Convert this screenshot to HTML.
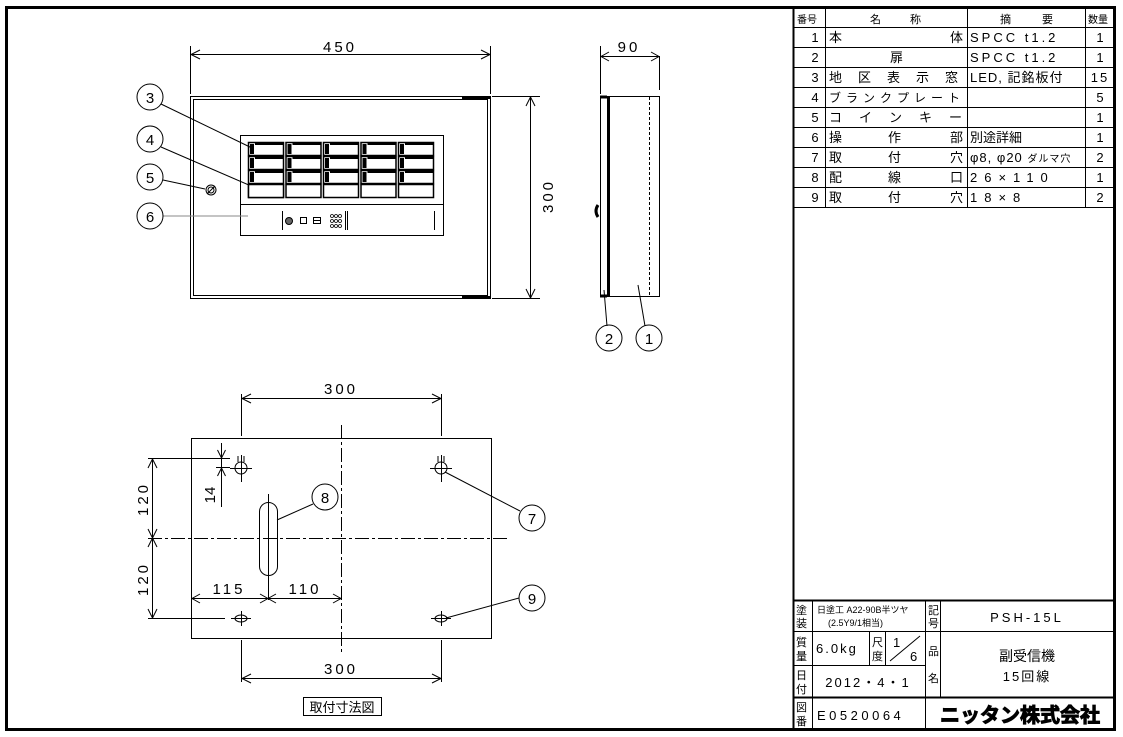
<!DOCTYPE html>
<html><head><meta charset="utf-8"><style>
html,body{margin:0;padding:0;background:#fff}
svg{display:block}
text{font-family:"Liberation Sans","Noto Sans CJK JP",sans-serif;fill:#000}
.j{font-family:"Liberation Sans","Noto Sans CJK JP",sans-serif}
</style></head><body>
<svg width="1123" height="737" viewBox="0 0 1123 737" xmlns="http://www.w3.org/2000/svg">
<defs>
<g id="c"><rect x="0.5" y="0.5" width="35" height="13" fill="none" stroke="#000" stroke-width="1.5"/><rect x="2" y="2" width="4" height="10" fill="#000"/><rect x="7" y="0" width="29" height="3" fill="#000"/></g>
<g id="b"><rect x="0.5" y="0.5" width="35" height="13" fill="none" stroke="#000" stroke-width="1.5"/></g>
</defs>
<rect x="6.5" y="7.5" width="1108" height="722" fill="none" stroke="#000" stroke-width="3"/>
<line x1="793.5" y1="7" x2="793.5" y2="730" stroke="#000" stroke-width="2"/>

<!-- parts table -->
<g stroke="#000" stroke-width="1" fill="none">
<line x1="793" y1="27.5" x2="1114" y2="27.5"/>
<line x1="793" y1="47.5" x2="1114" y2="47.5"/>
<line x1="793" y1="67.5" x2="1114" y2="67.5"/>
<line x1="793" y1="87.5" x2="1114" y2="87.5"/>
<line x1="793" y1="107.5" x2="1114" y2="107.5"/>
<line x1="793" y1="127.5" x2="1114" y2="127.5"/>
<line x1="793" y1="147.5" x2="1114" y2="147.5"/>
<line x1="793" y1="167.5" x2="1114" y2="167.5"/>
<line x1="793" y1="187.5" x2="1114" y2="187.5"/>
<line x1="793" y1="207.5" x2="1114" y2="207.5"/>
<line x1="825.5" y1="7" x2="825.5" y2="207"/>
<line x1="967.5" y1="7" x2="967.5" y2="207"/>
<line x1="1085.5" y1="7" x2="1085.5" y2="207"/>
</g>
<g font-size="11" class="j">
<text x="797" y="23" font-size="10">番号</text>
<text x="870" y="23">名</text><text x="910" y="23">称</text>
<text x="1000" y="23">摘</text><text x="1042" y="23">要</text>
<text x="1088" y="23" font-size="10">数量</text>
</g>
<g font-size="13" text-anchor="middle">
<text x="815" y="42">1</text><text x="815" y="62">2</text><text x="815" y="82">3</text><text x="815" y="102">4</text><text x="815" y="122">5</text><text x="815" y="142">6</text><text x="815" y="162">7</text><text x="815" y="182">8</text><text x="815" y="202">9</text>
<text x="1100" y="42">1</text><text x="1100" y="62">1</text><text x="1100" y="82" letter-spacing="2">15</text><text x="1100" y="102">5</text><text x="1100" y="122">1</text><text x="1100" y="142">1</text><text x="1100" y="162">2</text><text x="1100" y="182">1</text><text x="1100" y="202">2</text>
</g>
<g font-size="13" class="j">
<text x="829" y="42">本</text><text x="950" y="42">体</text>
<text x="890" y="62">扉</text>
<text x="829" y="82" letter-spacing="16">地区表示窓</text>
<text x="829" y="102" font-size="12" letter-spacing="5">ブランクプレート</text>
<text x="829" y="122" letter-spacing="17">コインキー</text>
<text x="829" y="142">操</text><text x="888" y="142">作</text><text x="950" y="142">部</text>
<text x="829" y="162">取</text><text x="888" y="162">付</text><text x="950" y="162">穴</text>
<text x="829" y="182">配</text><text x="888" y="182">線</text><text x="950" y="182">口</text>
<text x="829" y="202">取</text><text x="888" y="202">付</text><text x="950" y="202">穴</text>
<text x="970" y="142">別途詳細</text>
<text x="970" y="82" letter-spacing="1">LED, 記銘板付</text>
</g>
<g font-size="13" letter-spacing="3">
<text x="970" y="42">SPCC t1.2</text>
<text x="970" y="62">SPCC t1.2</text>
<text x="970" y="162" letter-spacing="1">φ8, φ20 <tspan font-size="10" class="j">ダルマ穴</tspan></text>
<text x="970" y="182" letter-spacing="7">26×110</text>
<text x="970" y="202" letter-spacing="7">18×8</text>
</g>

<!-- title block -->
<g stroke="#000" stroke-width="1" fill="none">
<line x1="793" y1="600.5" x2="1114" y2="600.5" stroke-width="2"/>
<line x1="793" y1="631.5" x2="1114" y2="631.5"/>
<line x1="793" y1="665.5" x2="925" y2="665.5"/>
<line x1="793" y1="697.5" x2="1114" y2="697.5" stroke-width="2"/>
<line x1="812.5" y1="600" x2="812.5" y2="730"/>
<line x1="925.5" y1="600" x2="925.5" y2="730"/>
<line x1="940.5" y1="600" x2="940.5" y2="697"/>
<line x1="869.5" y1="631" x2="869.5" y2="665"/>
<line x1="885.5" y1="631" x2="885.5" y2="665"/>
<line x1="890" y1="661" x2="920" y2="636"/>
</g>
<g font-size="11" class="j">
<text x="796" y="614">塗</text><text x="796" y="627">装</text>
<text x="796" y="646">質</text><text x="796" y="660">量</text>
<text x="796" y="679">日</text><text x="796" y="693">付</text>
<text x="796" y="711">図</text><text x="796" y="725">番</text>
<text x="928" y="614">記</text><text x="928" y="627">号</text>
<text x="928" y="655">品</text><text x="928" y="682">名</text>
<text x="872" y="646">尺</text><text x="872" y="660">度</text>
<text x="817" y="613" font-size="9">日塗工 A22-90B半ツヤ</text>
<text x="828" y="626" font-size="9">(2.5Y9/1相当)</text>
</g>
<g font-size="13">
<text x="1027" y="622" text-anchor="middle" letter-spacing="3">PSH-15L</text>
<text x="816" y="653" letter-spacing="2">6.0kg</text>
<text x="893" y="647">1</text><text x="910" y="661">6</text>
<text x="868" y="687" text-anchor="middle" letter-spacing="2">2012・4・1</text>
<text x="817" y="720" letter-spacing="3.5">E0520064</text>
<text x="1027" y="661" text-anchor="middle" class="j" font-size="14">副受信機</text>
<text x="1027" y="681" text-anchor="middle" class="j" letter-spacing="2">15回線</text>
<text x="1020" y="722" text-anchor="middle" class="j" font-size="20" font-weight="bold" stroke="#000" stroke-width="1">ニッタン株式会社</text>
</g>

<!-- front view -->
<g stroke="#000" fill="none" stroke-width="1">
<rect x="190.5" y="96.5" width="300" height="202"/>
<rect x="193.5" y="99.5" width="294" height="196"/>
<line x1="462" y1="97.5" x2="490" y2="97.5" stroke-width="3"/>
<line x1="462" y1="297.5" x2="490" y2="297.5" stroke-width="3"/>
<rect x="240.5" y="135.5" width="203" height="100"/>
<line x1="240" y1="204.5" x2="443" y2="204.5"/>
<line x1="190.5" y1="46" x2="190.5" y2="94"/>
<line x1="490.5" y1="46" x2="490.5" y2="94"/>
<line x1="191" y1="54.5" x2="490" y2="54.5"/>
<line x1="492" y1="96.5" x2="540" y2="96.5"/>
<line x1="492" y1="298.5" x2="540" y2="298.5"/>
<line x1="530.5" y1="97" x2="530.5" y2="298"/>
<path d="M200 50 L191 54.5 L200 59 M481 50 L490 54.5 L481 59 M526 106 L530.5 97 L535 106 M526 289 L530.5 298 L535 289"/>
<line x1="282.5" y1="211" x2="282.5" y2="230"/>
<line x1="345.5" y1="211" x2="345.5" y2="230"/><line x1="347.5" y1="211" x2="347.5" y2="230"/>
<line x1="434.5" y1="211" x2="434.5" y2="230"/>
<circle cx="289" cy="221" r="3.5" fill="#666"/><rect x="300.5" y="217.5" width="6" height="6"/><rect x="313.5" y="217.5" width="7" height="6"/>
<line x1="314" y1="220.5" x2="320" y2="220.5"/>
<g stroke-width="0.8"><circle cx="332" cy="216" r="1.5"/><circle cx="336" cy="216" r="1.5"/><circle cx="340" cy="216" r="1.5"/><circle cx="332" cy="221" r="1.5"/><circle cx="336" cy="221" r="1.5"/><circle cx="340" cy="221" r="1.5"/><circle cx="332" cy="226" r="1.5"/><circle cx="336" cy="226" r="1.5"/><circle cx="340" cy="226" r="1.5"/></g>
<circle cx="211" cy="190" r="5"/><line x1="207" y1="194" x2="215" y2="186"/><circle cx="211" cy="190" r="3"/>
<!-- leaders -->
<line x1="161" y1="104" x2="252" y2="148"/>
<line x1="161" y1="147" x2="258" y2="189"/>
<line x1="163" y1="180" x2="205" y2="189"/>
<line x1="163" y1="216" x2="248" y2="216" stroke="#888"/>
<circle cx="150" cy="97" r="13"/><circle cx="150" cy="139" r="13"/><circle cx="150" cy="177" r="13"/><circle cx="150" cy="216" r="13"/>
</g>
<use href="#c" x="248" y="142"/><use href="#c" x="285.5" y="142"/><use href="#c" x="323" y="142"/><use href="#c" x="360.5" y="142"/><use href="#c" x="398" y="142"/>
<use href="#c" x="248" y="156"/><use href="#c" x="285.5" y="156"/><use href="#c" x="323" y="156"/><use href="#c" x="360.5" y="156"/><use href="#c" x="398" y="156"/>
<use href="#c" x="248" y="170"/><use href="#c" x="285.5" y="170"/><use href="#c" x="323" y="170"/><use href="#c" x="360.5" y="170"/><use href="#c" x="398" y="170"/>
<use href="#c" x="248" y="184"/><use href="#b" x="285.5" y="184"/><use href="#b" x="323" y="184"/><use href="#b" x="360.5" y="184"/><use href="#b" x="398" y="184"/>
<rect x="248" y="184" width="36" height="14" fill="#fff"/>
<rect x="248.5" y="184.5" width="35" height="13" fill="none" stroke="#000" stroke-width="1.5"/>
<g font-size="15" text-anchor="middle">
<text x="150" y="103">3</text><text x="150" y="145">4</text><text x="150" y="183">5</text><text x="150" y="222">6</text>
<text x="340" y="52" letter-spacing="3">450</text>
<text transform="translate(553,196) rotate(-90)" letter-spacing="3">300</text>
<text x="629" y="52" letter-spacing="3">90</text>
<text x="609" y="344">2</text><text x="649" y="344">1</text>
</g>

<!-- side view -->
<g stroke="#000" fill="none" stroke-width="1">
<rect x="600.5" y="96.5" width="9" height="200"/>
<line x1="608" y1="97" x2="608" y2="296" stroke-width="2"/>
<rect x="609.5" y="96.5" width="50" height="200"/>
<line x1="649.5" y1="97" x2="649.5" y2="296" stroke-dasharray="3,2"/>
<line x1="600" y1="97" x2="607" y2="97" stroke-width="3"/>
<line x1="600" y1="296" x2="607" y2="296" stroke-width="3"/>
<path d="M598 205 Q594 211 598 217" stroke-width="3"/>
<line x1="600.5" y1="46" x2="600.5" y2="94"/><line x1="659.5" y1="56" x2="659.5" y2="90"/>
<line x1="601" y1="56.5" x2="659" y2="56.5"/>
<path d="M609 52 L601 56.5 L609 61 M651 52 L659 56.5 L651 61"/>
<line x1="604" y1="290" x2="607" y2="326"/><line x1="638" y1="285" x2="645" y2="326"/>
<circle cx="609" cy="338" r="13"/><circle cx="649" cy="338" r="13"/>
</g>

<!-- mounting view -->
<g stroke="#000" fill="none" stroke-width="1">
<rect x="191.5" y="438.5" width="300" height="200"/>
<line x1="341.5" y1="425" x2="341.5" y2="652" stroke-dasharray="14,3,3,3"/>
<line x1="148" y1="538.5" x2="508" y2="538.5" stroke-dasharray="14,3,3,3"/>
<line x1="241.5" y1="394" x2="241.5" y2="436"/><line x1="441.5" y1="394" x2="441.5" y2="436"/>
<line x1="241.5" y1="640" x2="241.5" y2="682"/><line x1="441.5" y1="640" x2="441.5" y2="682"/>
<line x1="242" y1="398.5" x2="441" y2="398.5"/>
<line x1="242" y1="678.5" x2="441" y2="678.5"/>
<path d="M251 394 L242 398.5 L251 403 M432 394 L441 398.5 L432 403 M251 674 L242 678.5 L251 683 M432 674 L441 678.5 L432 683"/>
<line x1="148" y1="458.5" x2="230" y2="458.5"/>
<line x1="148" y1="618.5" x2="225" y2="618.5"/>
<line x1="152.5" y1="459" x2="152.5" y2="618"/>
<path d="M148 468 L152.5 459 L157 468 M148 529 L152.5 538 L157 529 M148 547 L152.5 538 L157 547 M148 609 L152.5 618 L157 609"/>
<line x1="221.5" y1="443" x2="221.5" y2="507"/>
<line x1="216" y1="467.5" x2="230" y2="467.5"/>
<path d="M217.5 450 L221.5 458 L225.5 450 M217.5 476 L221.5 468 L225.5 476"/>
<line x1="268.5" y1="494" x2="268.5" y2="600"/>
<line x1="192" y1="598.5" x2="341" y2="598.5"/>
<path d="M200 594 L192 598.5 L200 603 M260 594 L268 598.5 L260 603 M276 594 L268 598.5 L276 603 M333 594 L341 598.5 L333 603"/>
<rect x="259.5" y="502.5" width="18" height="73" rx="9"/>
<circle cx="241" cy="468" r="6"/><circle cx="441" cy="468" r="6"/>
<path d="M238 462 L238 456 M244 462 L244 456" />
<path d="M438 462 L438 456 M444 462 L444 456" />
<line x1="230" y1="468.5" x2="252" y2="468.5"/><line x1="241.5" y1="455" x2="241.5" y2="482"/>
<line x1="430" y1="468.5" x2="452" y2="468.5"/><line x1="441.5" y1="455" x2="441.5" y2="482"/>
<ellipse cx="241" cy="618.5" rx="6" ry="3.5"/><ellipse cx="441" cy="618.5" rx="6" ry="3.5"/>
<line x1="231" y1="618.5" x2="251" y2="618.5"/><line x1="241.5" y1="611" x2="241.5" y2="626"/>
<line x1="431" y1="618.5" x2="451" y2="618.5"/><line x1="441.5" y1="611" x2="441.5" y2="626"/>
<line x1="277" y1="520" x2="313" y2="504"/>
<line x1="445" y1="472" x2="520" y2="511"/>
<line x1="446" y1="618" x2="519" y2="598"/>
<circle cx="325" cy="497" r="13"/><circle cx="532" cy="518" r="13"/><circle cx="532" cy="598" r="13"/>
<rect x="303.5" y="697.5" width="78" height="18"/>
</g>
<g font-size="15" text-anchor="middle">
<text x="341" y="394" letter-spacing="3">300</text>
<text x="341" y="674" letter-spacing="3">300</text>
<text x="229" y="594" letter-spacing="3">115</text>
<text x="305" y="594" letter-spacing="3">110</text>
<text transform="translate(148,499) rotate(-90)" letter-spacing="3">120</text>
<text transform="translate(148,579) rotate(-90)" letter-spacing="3">120</text>
<text transform="translate(215,495) rotate(-90)">14</text>
<text x="325" y="503">8</text><text x="532" y="524">7</text><text x="532" y="604">9</text>
<text x="342" y="712" class="j" font-size="13">取付寸法図</text>
</g>
</svg>
</body></html>
